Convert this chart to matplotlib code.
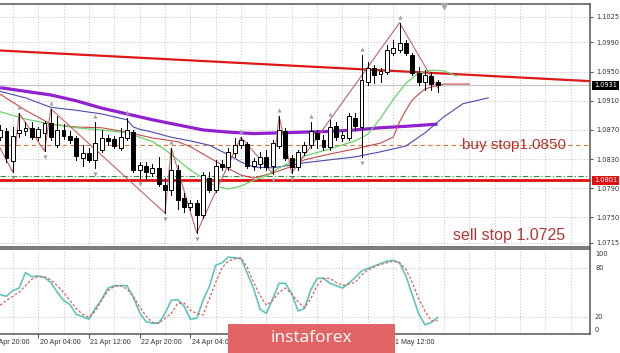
import matplotlib
matplotlib.use("Agg")
import matplotlib.pyplot as plt
import matplotlib.transforms as mtransforms
from matplotlib.patches import Rectangle

# ---------------- data (EURUSD H4) ----------------
opens = [1.0860, 1.0868, 1.0827, 1.0866, 1.0868, 1.0873, 1.0860, 1.0866, 1.0880, 1.0849,
         1.0870, 1.0862, 1.0859, 1.0832, 1.0839, 1.0829, 1.0843, 1.0859, 1.0858, 1.0845,
         1.0859, 1.0867, 1.0815, 1.0821, 1.0811, 1.0818, 1.0794, 1.0788, 1.0815, 1.0777,
         1.0764, 1.0770, 1.0753, 1.0804, 1.0788, 1.0823, 1.0819, 1.0839, 1.0849, 1.0851,
         1.0821, 1.0823, 1.0833, 1.0821, 1.0848, 1.0868, 1.0832, 1.0819, 1.0840, 1.0849,
         1.0866, 1.0856, 1.0847, 1.0875, 1.0859, 1.0859, 1.0886, 1.0874, 1.0936, 1.0955,
         1.0947, 1.0950, 1.0976, 1.0980, 1.0989, 1.0973, 1.0948, 1.0936, 1.0944, 1.0936]
highs = [1.0877, 1.0873, 1.0874, 1.0893, 1.0881, 1.0881, 1.0874, 1.0882, 1.0899, 1.0889,
         1.0878, 1.0868, 1.0862, 1.0849, 1.0845, 1.0881, 1.0870, 1.0863, 1.0862, 1.0873,
         1.0886, 1.0870, 1.0826, 1.0826, 1.0823, 1.0833, 1.0804, 1.0845, 1.0822, 1.0784,
         1.0774, 1.0774, 1.0812, 1.0812, 1.0829, 1.0829, 1.0845, 1.0859, 1.0860, 1.0854,
         1.0832, 1.0840, 1.0843, 1.0856, 1.0889, 1.0873, 1.0836, 1.0843, 1.0854, 1.0881,
         1.0870, 1.0863, 1.0884, 1.0881, 1.0868, 1.0893, 1.0893, 1.0973, 1.0963, 1.0959,
         1.0955, 1.0987, 1.0993, 1.1017, 1.0993, 1.0976, 1.0956, 1.0952, 1.0950, 1.0939]
lows = [1.0856, 1.0826, 1.0812, 1.0860, 1.0863, 1.0858, 1.0856, 1.0841, 1.0856, 1.0847,
        1.0858, 1.0852, 1.0829, 1.0821, 1.0826, 1.0818, 1.0840, 1.0849, 1.0845, 1.0843,
        1.0856, 1.0812, 1.0804, 1.0801, 1.0807, 1.0793, 1.0756, 1.0781, 1.0762, 1.0757,
        1.0760, 1.0729, 1.0749, 1.0785, 1.0785, 1.0815, 1.0815, 1.0833, 1.0845, 1.0818,
        1.0815, 1.0818, 1.0815, 1.0810, 1.0845, 1.0829, 1.0811, 1.0815, 1.0836, 1.0845,
        1.0845, 1.0843, 1.0843, 1.0856, 1.0855, 1.0856, 1.0870, 1.0833, 1.0932, 1.0934,
        1.0936, 1.0947, 1.0973, 1.0977, 1.0973, 1.0945, 1.0932, 1.0925, 1.0925, 1.0922]
closes = [1.0870, 1.0832, 1.0862, 1.0870, 1.0873, 1.0860, 1.0871, 1.0880, 1.0860, 1.0870,
          1.0862, 1.0856, 1.0834, 1.0839, 1.0829, 1.0852, 1.0859, 1.0855, 1.0848, 1.0860,
          1.0870, 1.0815, 1.0822, 1.0812, 1.0818, 1.0796, 1.0788, 1.0815, 1.0774, 1.0764,
          1.0770, 1.0753, 1.0808, 1.0788, 1.0821, 1.0819, 1.0840, 1.0849, 1.0856, 1.0821,
          1.0827, 1.0833, 1.0819, 1.0852, 1.0870, 1.0832, 1.0819, 1.0840, 1.0849, 1.0868,
          1.0858, 1.0847, 1.0874, 1.0860, 1.0863, 1.0889, 1.0875, 1.0939, 1.0955, 1.0945,
          1.0951, 1.0980, 1.0982, 1.0989, 1.0976, 1.0948, 1.0936, 1.0945, 1.0933, 1.0931]

# moving averages (bar index, price)
ma_slow_x = [0, 4, 8, 12, 16, 20, 24, 28, 32, 36, 40, 44, 48, 52, 56, 60, 64, 69]
ma_slow_y = [1.0928, 1.0923, 1.0918, 1.0910, 1.0900, 1.0892, 1.0884, 1.0877, 1.0870,
             1.0867, 1.0865, 1.0866, 1.0867, 1.0868, 1.0870, 1.0873, 1.0875, 1.0878]
jaw_x = [0, 4, 8, 12, 16, 20, 21, 22, 24, 27, 30, 33, 36, 38, 40, 43, 46, 48, 52, 56,
         60, 64, 67, 70, 73, 77]
jaw_y = [1.0923, 1.0914, 1.0901, 1.0897, 1.0892, 1.0884, 1.0874, 1.0871, 1.0867, 1.0860,
         1.0855, 1.0849, 1.0836, 1.0826, 1.0819, 1.0818, 1.0822, 1.0825, 1.0829, 1.0833,
         1.0840, 1.0848, 1.0866, 1.0888, 1.0906, 1.0914]
teeth_x = [0, 4, 8, 12, 16, 20, 24, 28, 30, 33, 36, 38, 40, 43, 46, 48, 52, 56, 60, 62,
           63, 64, 65, 66, 67, 68, 70, 74]
teeth_y = [1.0919, 1.0897, 1.0878, 1.0874, 1.0873, 1.0867, 1.0859, 1.0854, 1.0847, 1.0832,
           1.0817, 1.0808, 1.0804, 1.0811, 1.0820, 1.0829, 1.0837, 1.0844, 1.0852, 1.0860,
           1.0881, 1.0897, 1.0911, 1.0919, 1.0926, 1.0929, 1.0933, 1.0933]
lips_x = [0, 4, 8, 12, 16, 20, 22, 24, 26, 28, 30, 32, 34, 36, 38, 40, 42, 44, 46, 48,
          52, 56, 58, 60, 62, 64, 66, 68, 70, 72]
lips_y = [1.0895, 1.0885, 1.0878, 1.0873, 1.0870, 1.0866, 1.0860, 1.0854, 1.0843, 1.0829,
          1.0815, 1.0804, 1.0793, 1.0789, 1.0793, 1.0801, 1.0807, 1.0818, 1.0826, 1.0834,
          1.0844, 1.0855, 1.0864, 1.0886, 1.0912, 1.0934, 1.0948, 1.0952, 1.0951, 1.0944]

# zigzag
zz_x = [-2, 2, 3, 7, 8, 26, 27, 31, 38, 43, 44, 46, 63, 69]
zz_y = [1.0878, 1.0812, 1.0893, 1.0841, 1.0899, 1.0756, 1.0845, 1.0729, 1.0860, 1.0810,
        1.0889, 1.0811, 1.1017, 1.0928]

# fractals
fractal_up = [3, 8, 15, 20, 27, 38, 44, 49, 52, 57, 63]
fractal_dn = [2, 7, 15, 22, 26, 31, 43, 46, 57]

# trend line and levels
trend_x = [0, 93]
trend_y = [1.0979, 1.0937]
support_level = 1.0801
green_level = 1.0807
buy_stop = 1.0850
sell_stop = 1.0725
bid = 1.0931

price_ticks = [1.1025, 1.0990, 1.0950, 1.0910, 1.0870, 1.0830, 1.0790, 1.0750, 1.0715]

# stochastic
stoch_main = [47, 45, 52, 55, 74, 69, 70, 68, 62, 50, 40, 35, 23, 20, 17, 30, 41, 55, 58, 58,
              58, 44, 25, 14, 12, 12, 24, 40, 41, 33, 17, 18, 40, 57, 83, 86, 93, 92, 91, 73,
              54, 29, 24, 42, 61, 61, 48, 27, 30, 53, 67, 67, 61, 58, 55, 61, 68, 76, 79, 82,
              85, 88, 89, 86, 70, 47, 24, 10, 13, 19]
stoch_signal = [34, 40, 45, 50, 58, 66, 69, 69, 65, 58, 50, 40, 30, 23, 19, 27, 40, 52, 57, 58,
                54, 45, 32, 21, 13, 12, 18, 24, 36, 37, 28, 24, 22, 42, 62, 80, 88, 91, 92, 80,
                62, 46, 34, 40, 50, 55, 48, 38, 31, 42, 58, 67, 67, 62, 58, 60, 62, 71, 77, 81,
                84, 86, 88, 86, 78, 62, 42, 27, 15, 15]
stoch_levels = [20, 80]
stoch_labels = [100, 80, 20, 0]

# time axis (labels fully under the watermark are not visible in the chart)
time_idx = [-2, 6, 14, 22, 30, 38, 46, 54, 62]
time_labels = ["17 Apr 20:00", "20 Apr 04:00", "21 Apr 12:00", "22 Apr 20:00",
               "24 Apr 04:00", "27 Apr 12:00", "28 Apr 20:00", "30 Apr 04:00",
               "1 May 12:00"]
hidden_labels = {"27 Apr 12:00", "28 Apr 20:00", "30 Apr 04:00"}

# ---------------- figure ----------------
W, H = 620, 353
fig = plt.figure(figsize=(W / 100, H / 100), dpi=100)
fig.patch.set_facecolor("white")
ax = fig.add_axes([0, 1 - 247 / H, 590 / W, (247 - 4) / H])
ax2 = fig.add_axes([0, 1 - 334 / H, 590 / W, (334 - 249) / H])

XMIN, XMAX = -0.02, 93.04
grid_kw = dict(color="#c4c4c4", lw=0.6, ls=(0, (1.5, 2.0)), zorder=0)

for a in (ax, ax2):
    a.set_xlim(XMIN, XMAX)
    a.spines["left"].set_visible(False)
    for s in ("top", "right", "bottom"):
        a.spines[s].set_color("#555555")
        a.spines[s].set_linewidth(1.1)
    for gx in range(2, 93, 4):
        a.axvline(gx, **grid_kw)

ax.set_ylim(1.07094, 1.10428)
for p in price_ticks:
    ax.axhline(p, **grid_kw)

# levels
ax.axhline(bid, color="#c8c8c8", lw=0.9, zorder=1)
ax.axhline(green_level, color="#2f8f3f", lw=0.8, ls=(0, (5, 2, 1, 2)), zorder=2)
ax.axhline(buy_stop, color="#d9783a", lw=0.8, ls=(0, (4, 3)), zorder=2)
ax.axhline(support_level, color="#e01010", lw=2.0, zorder=3)
ax.plot(trend_x, trend_y, color="#dd1818", lw=1.6, zorder=3)

# indicator lines
ax.plot(ma_slow_x, ma_slow_y, color="#9020d0", lw=2.3, zorder=4, solid_capstyle="butt")
ax.plot(jaw_x, jaw_y, color="#4848b8", lw=0.8, zorder=4)
ax.plot(teeth_x, teeth_y, color="#c84848", lw=0.8, zorder=4)
ax.plot(lips_x, lips_y, color="#66d466", lw=0.9, zorder=4)
ax.plot(zz_x, zz_y, color="#c26464", lw=0.8, zorder=4)

# candles
bw = 0.62
for i, (o, h, l, c) in enumerate(zip(opens, highs, lows, closes)):
    ax.plot([i, i], [l, h], color="black", lw=0.7, zorder=5)
    fc = "white" if c >= o else "black"
    ax.add_patch(Rectangle((i - bw / 2, min(o, c)), bw, max(abs(c - o), 0.00005),
                           facecolor=fc, edgecolor="black", lw=0.7, zorder=6))

# fractal arrows
up_tr = mtransforms.offset_copy(ax.transData, fig=fig, x=0, y=6, units="dots")
dn_tr = mtransforms.offset_copy(ax.transData, fig=fig, x=0, y=-6, units="dots")
ax.scatter(fractal_up, [highs[i] for i in fractal_up], marker="^", s=9,
           color="#a0a0a0", transform=up_tr, zorder=6, linewidths=0)
ax.scatter(fractal_dn, [lows[i] for i in fractal_dn], marker="v", s=9,
           color="#a0a0a0", transform=dn_tr, zorder=6, linewidths=0)

# chart shift marker
ax.plot([70], [1.10428], marker="v", ms=4, color="#a8a8a8", clip_on=False, zorder=7,
        transform=mtransforms.offset_copy(ax.transData, fig=fig, x=0, y=-2, units="dots"))

# annotations
txt_col = "#b33636"
ax.text(72.9, buy_stop, "buy stop1.0850", fontsize=11, family="Liberation Sans",
        color=txt_col, ha="left", va="center", zorder=8)
ax.text(71.4, sell_stop, "sell stop 1.0725", fontsize=11.5, family="Liberation Sans",
        color=txt_col, ha="left", va="center", zorder=8)

# right price axis
ax.yaxis.tick_right()
ax.set_yticks(price_ticks)
ax.set_yticklabels([f"{p:.4f}" for p in price_ticks])
ax.tick_params(axis="y", length=2.5, width=0.6, pad=2, labelsize=4.8, colors="#333333")
ax.tick_params(axis="x", bottom=False, labelbottom=False)
bt = mtransforms.blended_transform_factory(ax.transAxes, ax.transData)
ax.text(1.0 + 4 / 590, bid, f"{bid:.4f}", transform=bt, fontsize=4.8, color="white",
        ha="left", va="center", family="DejaVu Sans",
        bbox=dict(facecolor="black", edgecolor="none", pad=1.2), clip_on=False, zorder=9)
ax.text(1.0 + 4 / 590, support_level, f"{support_level:.4f}", transform=bt, fontsize=4.8,
        color="white", ha="left", va="center", family="DejaVu Sans",
        bbox=dict(facecolor="#e01010", edgecolor="none", pad=1.2), clip_on=False, zorder=9)

# ---------------- stochastic ----------------
ax2.set_ylim(-1.2, 102.9)
for lv in stoch_levels:
    ax2.axhline(lv, **grid_kw)
xs = list(range(len(stoch_main)))
ax2.plot(xs, stoch_main, color="#5cc6bc", lw=1.2, zorder=3)
ax2.plot(xs, stoch_signal, color="#e05a5a", lw=0.9, ls=(0, (2.0, 1.6)), zorder=4)
ax2.set_yticks([])
bt2 = mtransforms.blended_transform_factory(ax2.transAxes, ax2.transData)
for v in stoch_labels:
    va = "top" if v == 100 else ("bottom" if v == 0 else "center")
    ax2.text(1.0 + 5 / 590, v, str(v), transform=bt2, fontsize=4.8, color="#333333",
             ha="left", va=va, clip_on=False)

ax2.set_xticks([t for t in time_idx if t >= 0])
ax2.set_xticklabels([])
ax2.tick_params(axis="x", length=3, width=0.6, color="#333333")
tt = mtransforms.blended_transform_factory(ax2.transData, fig.transFigure)
for t, lab in zip(time_idx, time_labels):
    if lab in hidden_labels:
        continue
    ax2.text(t + 0.25, 1 - 342 / H, lab, transform=tt, fontsize=5.1, color="#333333",
             ha="left", va="center", family="Liberation Sans", clip_on=False)

# watermark
fig.patches.append(Rectangle((228 / W, 0), (395 - 228) / W, (353 - 324) / H,
                             transform=fig.transFigure, facecolor="#e26464",
                             edgecolor="none", zorder=20))
fig.text(311 / W, 1 - 338 / H, "instaforex", fontsize=12.5, family="Open Sans",
         color="white", ha="center", va="center", zorder=21)

fig.savefig("out.png", dpi=100, facecolor="white")
